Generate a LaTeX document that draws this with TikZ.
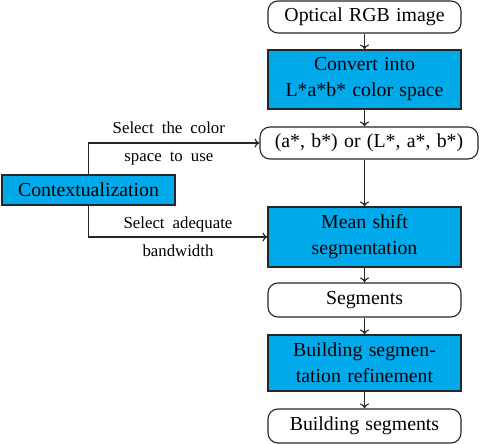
\documentclass[tikz,border=0pt]{standalone}
\usepackage{fontspec}
\setmainfont{Liberation Serif}
\usetikzlibrary{arrows.meta}
\definecolor{boxcyan}{RGB}{0,170,234}
\newcommand{\mainfont}{\fontsize{19.8}{26}\selectfont\spaceskip=0.32em}
\newcommand{\lblfont}{\fontsize{16.8}{27}\selectfont\spaceskip=0.48em}
\tikzset{
  base/.style={draw=black!85, line width=1.1pt, inner sep=0pt, align=center, font=\mainfont},
  roundbox/.style={base, rounded corners=10pt, fill=white},
  procbox/.style={base, fill=boxcyan},
  arr/.style={-{To[length=5pt,width=9pt]}, line width=1.1pt, draw=black!85},
  lbl/.style={font=\lblfont, inner sep=0pt}
}
\begin{document}
\begin{tikzpicture}[x=1pt,y=-1pt]
\useasboundingbox (0,0) rectangle (480,444);
\node[roundbox, minimum width=193pt, minimum height=32pt] (rgb) at (364.5,17) {Optical RGB image};
\node[procbox, minimum width=193pt, minimum height=59pt] (conv) at (364.5,79.5) {Convert into\\L*a*b* color space};
\node[roundbox, minimum width=218pt, minimum height=32pt] (ab) at (369,143) {(a*, b*) or (L*, a*, b*)};
\node[procbox, minimum width=193pt, minimum height=60pt] (ms) at (364.5,237) {Mean shift\\segmentation};
\node[roundbox, minimum width=193pt, minimum height=34pt] (seg) at (364.5,300) {Segments};
\node[procbox, minimum width=193pt, minimum height=56pt] (ref) at (364.5,363) {Building segmen-\\tation refinement};
\node[roundbox, minimum width=193pt, minimum height=34pt] (bs) at (364.5,426) {Building segments};
\node[procbox, minimum width=173pt, minimum height=30pt] (ctx) at (88.5,190) {Contextualization};

\draw[arr] (rgb) -- (conv);
\draw[arr] (conv) -- (conv.south |- ab.north);
\draw[arr] (conv.south |- ab.south) -- (ms);
\draw[arr] (ms) -- (seg);
\draw[arr] (seg) -- (ref);
\draw[arr] (ref) -- (bs);

\coordinate (c1) at (ctx.north |- ab.west);
\coordinate (c2) at (ctx.south |- ms.west);
\draw[arr] (ctx.north) -- (c1) -- node[lbl, above=9pt, pos=0.47] {Select the color} node[lbl, below=8pt, pos=0.47] {space to use} (ab.west);
\draw[arr] (ctx.south) -- (c2) -- node[lbl, above=4pt] {Select adequate} node[lbl, below=7pt] {bandwidth} (ms.west);
\end{tikzpicture}
\end{document}
